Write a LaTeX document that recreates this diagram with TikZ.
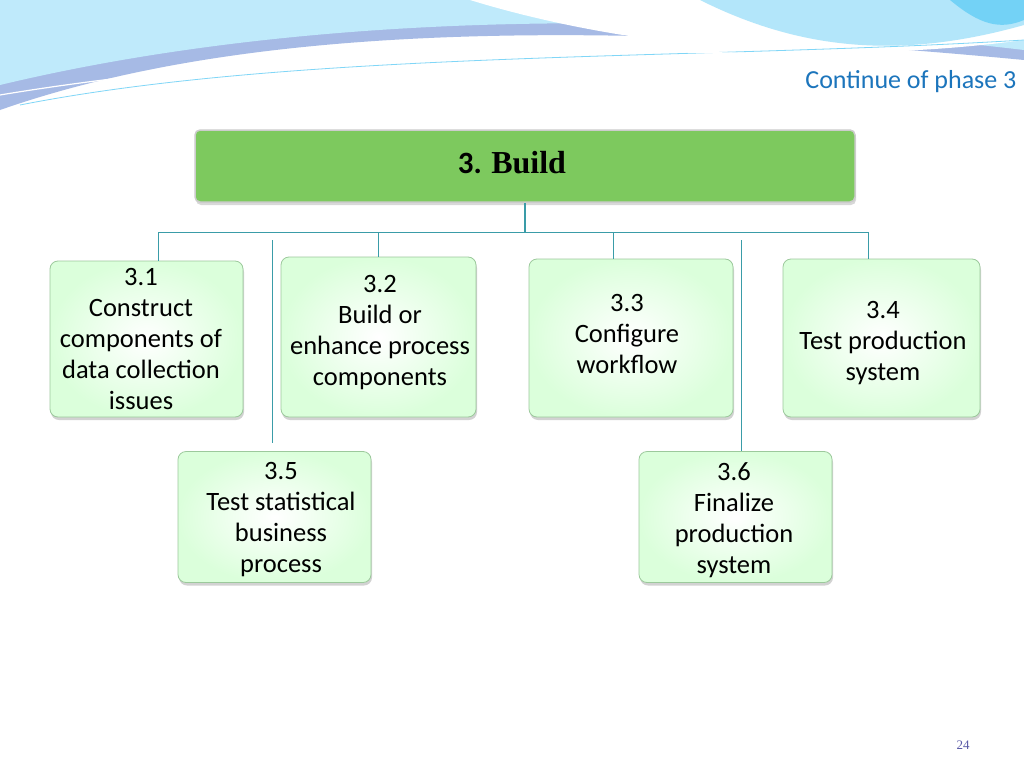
\documentclass[tikz,border=0pt]{standalone}
\usepackage{fontspec}
\setmainfont{Carlito}
\newfontfamily\serifb{Liberation Serif}
\usetikzlibrary{shadows}
\definecolor{teal1}{HTML}{3A9CA8}
\definecolor{hdr}{HTML}{7DC95E}
\definecolor{bluet}{HTML}{1C75BC}
\tikzset{
 task/.style={draw=green!30!gray!60, line width=0.8pt, rounded corners=8pt, shading=radial, inner color=white, outer color=green!14, drop shadow={shadow xshift=1pt, shadow yshift=-3pt, opacity=0.35}},
 ttext/.style={align=center, font=\fontsize{26.5}{31}\selectfont, inner sep=0pt},
 conn/.style={teal1, line width=0.9pt}
}
\begin{document}
\begin{tikzpicture}[x=1pt,y=-1pt]
\useasboundingbox (0,0) rectangle (1024,768);
\fill[white] (0,0) rectangle (1024,768);
% top swooshes
\fill[cyan!45!blue!35] (0,0) -- (0,110) .. controls (200,40) and (500,10) .. (1024,60) -- (1024,0) -- cycle;
\fill[cyan!25] (0,0) -- (0,85) .. controls (250,25) and (600,0) .. (1024,50) -- (1024,0) -- cycle;
\fill[white] (470,0) .. controls (600,40) and (800,70) .. (1024,40) -- (1024,0) -- cycle;
\fill[cyan!30] (700,0) .. controls (800,50) and (900,60) .. (1024,25) -- (1024,0) -- cycle;
\fill[cyan!55] (950,0) .. controls (980,25) and (1000,30) .. (1024,20) -- (1024,0) -- cycle;
\draw[cyan!50, line width=0.8pt] (20,105) .. controls (300,50) and (700,60) .. (1024,40);
\draw[white, line width=1.2pt] (0,95) .. controls (300,45) and (700,40) .. (1024,70);
\node[bluet, font=\fontsize{26}{28}\selectfont, anchor=east] (cont) at (1020,82) {Continue of phase 3};
\node[gray!70!blue, font=\fontsize{13}{15}\selectfont\serifb] (pg) at (963,745) {24};
% header
\node[draw=gray!40, line width=1.5pt, fill=hdr, rounded corners=5pt, minimum width=660pt, minimum height=72pt, drop shadow={shadow xshift=1pt, shadow yshift=-3pt, opacity=0.3}] (h) at (525,166) {};
\node (ht) at (512,163) {\fontsize{31}{34}\selectfont\bfseries 3. {\serifb\fontsize{32}{34}\selectfont Build}};
% connectors
\coordinate (j) at (525,232);
\coordinate (l) at (158,232);
\coordinate (r) at (868,232);
\draw[teal1, line width=2.5pt] (h.south) -- (j);
\draw[conn] (l) -- (r);
% tasks
\node[task, minimum width=193pt, minimum height=156pt] (t1) at (146.5,339) {};
\node[task, minimum width=195pt, minimum height=160pt] (t2) at (378.5,337) {};
\node[task, minimum width=204pt, minimum height=158pt] (t3) at (631,338) {};
\node[task, minimum width=197pt, minimum height=158pt] (t4) at (881.5,338) {};
\node[task, minimum width=193pt, minimum height=131pt] (t5) at (274.5,517) {};
\node[task, minimum width=193pt, minimum height=131pt] (t6) at (735.5,517) {};
\node[ttext] (x1) at (141,339) {3.1\\Construct\\components of\\data collection\\issues};
\node[ttext] (x2) at (380,333) {3.2\\Build or\\enhance process\\components};
\node[ttext] (x3) at (627,334) {3.3\\Configure\\workflow};
\node[ttext] (x4) at (883,343) {3.4\\Test production\\system};
\node[ttext] (x5) at (281,520) {3.5\\Test statistical\\business\\process};
\node[ttext] (x6) at (734,520) {3.6\\Finalize\\production\\system};
\draw[conn] (l) -- (t1.north -| l);
\draw[conn] (378,232) -- (t2.north -| 378,0);
\draw[conn] (613,232) -- (t3.north -| 613,0);
\draw[conn] (r) -- (t4.north -| r);
\coordinate (v1) at (272,240); \coordinate (v2) at (741,240);
\draw[conn] (v1) -- (272,443);
\draw[conn] (v2) -- (t6.north -| v2);
\end{tikzpicture}
\end{document}
